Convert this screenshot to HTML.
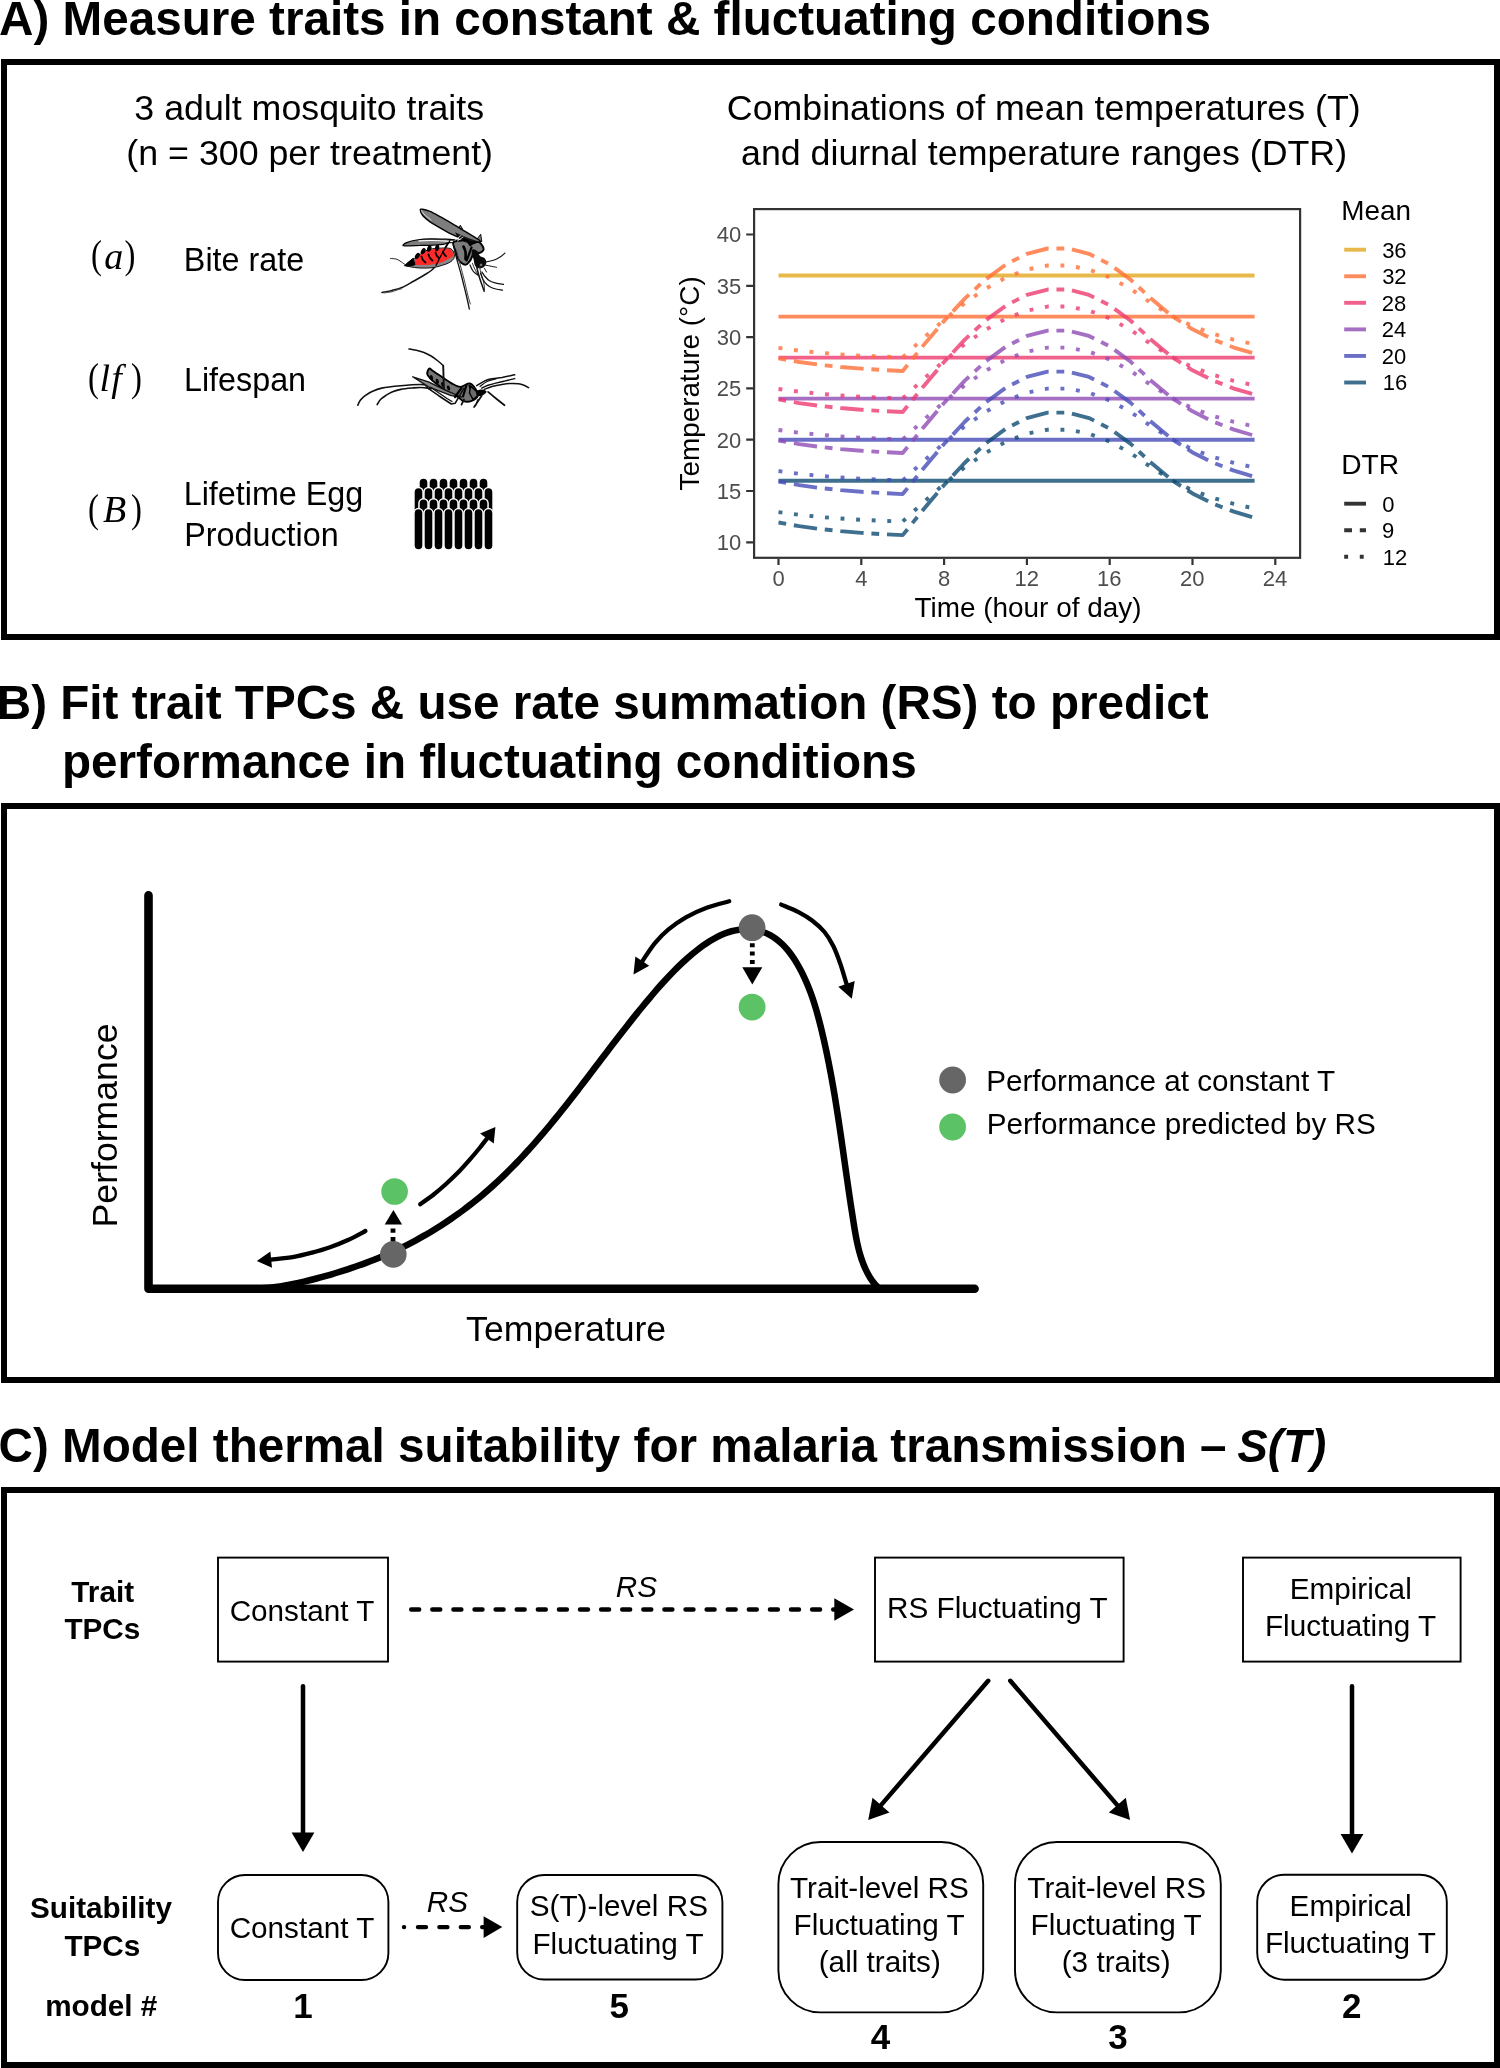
<!DOCTYPE html>
<html lang="en"><head><meta charset="utf-8"><title>Figure</title>
<style>html,body{margin:0;padding:0;background:#fff}svg{display:block;will-change:transform}</style></head>
<body>
<svg width="1500" height="2068" viewBox="0 0 1500 2068" font-family='"Liberation Sans", sans-serif'>
<rect width="1500" height="2068" fill="#fff"/>
<rect x="4" y="62" width="1493" height="575" fill="none" stroke="#000" stroke-width="6"/>
<rect x="4" y="806" width="1493" height="574" fill="none" stroke="#000" stroke-width="6"/>
<rect x="4" y="1490" width="1493" height="575" fill="none" stroke="#000" stroke-width="6"/>
<text x="-0.95" y="35.00" font-size="47.64" font-weight="bold">A) Measure traits in constant &amp; fluctuating conditions</text>
<text x="-3.26" y="719.00" font-size="47.64" font-weight="bold">B) Fit trait TPCs &amp; use rate summation (RS) to predict</text>
<text x="61.97" y="778.00" font-size="47.64" font-weight="bold">performance in fluctuating conditions</text>
<text x="-1.51" y="1462" font-size="47.64" font-weight="bold">C) Model thermal suitability for malaria transmission –</text>
<text x="1237.19" y="1462.00" font-size="45.9" font-weight="bold" font-style="italic">S(T)</text>
<text x="134.33" y="119.60" font-size="35.75">3 adult mosquito traits</text>
<text x="126.36" y="165.00" font-size="35.75">(n = 300 per treatment)</text>
<text x="726.84" y="119.60" font-size="35.75">Combinations of mean temperatures (T)</text>
<text x="741.01" y="165.00" font-size="35.75">and diurnal temperature ranges (DTR)</text>
<text x="183.85" y="270.60" font-size="32.3">Bite rate</text>
<text x="183.96" y="390.60" font-size="32.3">Lifespan</text>
<text x="183.74" y="504.60" font-size="32.3">Lifetime Egg</text>
<text x="184.21" y="545.60" font-size="32.3">Production</text>
<text transform="translate(96.80 268.00) scale(0.8 1)" x="-7.17" y="0" font-size="41" font-family="'Liberation Serif', serif">(</text>
<text transform="translate(129.80 268.00) scale(0.8 1)" x="-6.56" y="0" font-size="41" font-family="'Liberation Serif', serif">)</text>
<text x="104.19" y="268.60" font-size="38" font-style="italic" font-family="'Liberation Serif', serif">a</text>
<text transform="translate(93.80 390.60) scale(0.8 1)" x="-7.17" y="0" font-size="41" font-family="'Liberation Serif', serif">(</text>
<text transform="translate(136.20 390.60) scale(0.8 1)" x="-6.56" y="0" font-size="41" font-family="'Liberation Serif', serif">)</text>
<text x="99.51" y="390.60" font-size="38" font-style="italic" font-family="'Liberation Serif', serif">l</text>
<text x="111.21" y="390.60" font-size="38" font-style="italic" font-family="'Liberation Serif', serif">f</text>
<text transform="translate(93.80 522.40) scale(0.8 1)" x="-7.17" y="0" font-size="41" font-family="'Liberation Serif', serif">(</text>
<text transform="translate(136.20 522.40) scale(0.8 1)" x="-6.56" y="0" font-size="41" font-family="'Liberation Serif', serif">)</text>
<text x="103.09" y="522.40" font-size="38" font-style="italic" font-family="'Liberation Serif', serif">B</text>
<g stroke-linecap="round" stroke-linejoin="round"><path d="M449.3 240.3C448.7 241.4 446.6 245.1 445.5 247.0C444.4 248.9 443.9 249.6 442.7 251.7C441.5 253.8 439.6 257.3 438.5 259.5C437.4 261.7 437.0 263.3 436.0 265.0C435.0 266.7 434.2 268.0 432.5 269.5C430.8 271.0 429.1 272.1 426.0 274.0C422.9 275.9 418.0 278.8 414.0 281.0C410.0 283.2 405.7 285.9 402.0 287.5C398.3 289.1 395.3 289.6 392.0 290.5C388.7 291.4 383.7 292.2 382.0 292.6" fill="none" stroke="#111" stroke-width="1.5"/><path d="M401.5 288.6C399.9 289.1 394.9 290.9 392.0 291.6C389.1 292.3 385.3 292.7 384.0 292.9" fill="none" stroke="#555" stroke-width="1.2"/><path d="M403.0 245.4C403.0 244.9 404.4 243.5 406.7 242.6C409.0 241.7 412.8 240.6 416.7 240.0C420.6 239.4 425.0 238.9 430.0 238.8C435.0 238.7 442.2 239.0 446.7 239.2C451.1 239.4 454.1 239.7 456.7 240.2C459.2 240.7 463.2 241.8 462.0 242.2C460.8 242.6 452.4 242.2 449.3 242.6C446.2 243.0 446.0 244.0 443.3 244.4C440.6 244.8 437.2 244.9 433.3 245.1C429.4 245.3 424.4 245.4 420.0 245.5C415.6 245.6 409.5 245.8 406.7 245.8C403.9 245.8 403.0 245.9 403.0 245.4Z" fill="#7d7d7d" stroke="#000" stroke-width="1.2"/><path d="M419.0 240.9C421.2 240.8 427.3 240.4 432.0 240.5C436.7 240.6 443.0 240.9 447.0 241.2C451.0 241.4 454.5 241.9 456.0 242.0" fill="none" stroke="#fff" stroke-width="1.2"/><path d="M405.3 265.2C405.8 263.9 410.9 260.1 412.7 259.0C414.5 257.9 414.4 259.3 416.0 258.3C417.6 257.3 419.9 254.4 422.0 253.0C424.1 251.6 426.1 250.5 428.7 249.7C431.2 248.9 433.9 248.5 437.3 248.3C440.7 248.1 446.6 247.7 449.3 248.3C452.0 248.9 452.8 250.5 453.6 252.0C454.4 253.5 454.6 255.9 454.2 257.5C453.8 259.1 452.5 260.4 451.0 261.5C449.5 262.6 448.0 263.4 445.0 264.4C442.0 265.4 437.2 267.0 433.0 267.6C428.8 268.2 423.8 268.1 420.0 268.0C416.2 267.9 412.4 267.2 410.0 266.7C407.6 266.2 404.9 266.5 405.3 265.2Z" fill="#888" stroke="#111" stroke-width="1"/><path d="M414.3 264.3C413.6 263.2 414.7 260.4 416.0 258.6C417.3 256.8 419.9 254.8 422.0 253.4C424.1 252.0 426.1 251.0 428.7 250.2C431.2 249.4 433.9 249.1 437.3 248.8C440.7 248.6 446.3 248.2 448.8 248.7C451.3 249.2 451.7 250.7 452.4 251.9C453.1 253.1 453.4 254.8 452.9 255.9C452.4 257.0 451.4 257.3 449.3 258.5C447.2 259.7 443.2 262.0 440.0 263.0C436.8 264.0 433.3 264.4 430.0 264.7C426.7 265.0 422.6 265.1 420.0 265.0C417.4 264.9 415.0 265.4 414.3 264.3Z" fill="#ff2a2a"/><path d="M404.8 265.4 L413.2 258.4 L415.0 264.8 L409.0 266.0Z" fill="#000" stroke="#000" stroke-width="1"/><ellipse cx="417.4" cy="255.9" rx="2.1" ry="3.3" transform="rotate(35 417.4 255.9)" fill="#000"/><ellipse cx="423.2" cy="251.2" rx="2.1" ry="3.3" transform="rotate(30 423.2 251.2)" fill="#000"/><ellipse cx="429.2" cy="248.6" rx="2.1" ry="3.3" transform="rotate(20 429.2 248.6)" fill="#000"/><ellipse cx="437.1" cy="247.9" rx="2.1" ry="3.3" transform="rotate(10 437.1 247.9)" fill="#000"/><path d="M421.5 256.5C421.8 257.1 422.3 259.0 423.0 260.0C423.7 261.0 425.1 262.1 425.5 262.5" fill="none" stroke="#000" stroke-width="1.8"/><path d="M428.5 254.5C428.8 255.1 429.3 257.0 430.0 258.0C430.7 259.0 432.1 260.1 432.5 260.5" fill="none" stroke="#000" stroke-width="1.8"/><path d="M435.5 252.5C435.7 253.0 436.1 254.6 436.7 255.5C437.2 256.4 438.4 257.6 438.8 258.0" fill="none" stroke="#000" stroke-width="1.8"/><path d="M443.0 251.5C443.2 251.9 443.5 253.2 444.0 254.0C444.5 254.8 445.7 255.9 446.0 256.3" fill="none" stroke="#000" stroke-width="1.8"/><path d="M390.5 258.5C391.4 258.6 394.4 258.6 396.0 259.0C397.6 259.4 398.6 260.1 400.0 261.0C401.4 261.9 403.8 263.7 404.5 264.2" fill="none" stroke="#111" stroke-width="0.9"/><path d="M453.3 242.4C454.4 240.7 458.7 240.9 462.0 240.5C465.3 240.1 470.6 239.6 473.3 239.7C476.0 239.8 476.4 239.9 478.0 241.0C479.6 242.1 481.8 244.8 482.7 246.3C483.6 247.9 483.9 249.2 483.3 250.3C482.7 251.4 480.6 252.7 479.0 253.0C477.4 253.3 475.2 251.4 474.0 252.2C472.8 253.0 472.3 256.4 471.5 258.0C470.7 259.6 470.3 260.6 469.3 261.7C468.3 262.8 466.9 264.8 465.3 264.8C463.8 264.8 461.4 263.1 460.0 261.7C458.6 260.3 457.8 258.4 457.0 256.5C456.2 254.6 455.9 252.8 455.3 250.5C454.7 248.2 452.2 244.1 453.3 242.4Z" fill="#7d7d7d" stroke="#000" stroke-width="1.9"/><path d="M463.5 246.5C463.8 247.4 465.2 249.9 465.5 252.0C465.8 254.1 465.5 257.8 465.5 259.0" fill="none" stroke="#000" stroke-width="2.6"/><path d="M471.5 247.5C471.2 248.4 470.3 250.8 469.5 253.0C468.7 255.2 467.0 259.2 466.5 260.5" fill="none" stroke="#000" stroke-width="2.2"/><path d="M466.0 240.5 L481.0 241.2 L474.0 243.8 L470.0 246.5 L467.5 243.0Z" fill="#000"/><path d="M458.5 228.6 L460.3 225.2 L462.5 228.8Z" fill="#7d7d7d" stroke="#000" stroke-width="0.9"/><path d="M476.5 239.9 L480.7 234.2 L481.8 241.2Z" fill="#7d7d7d" stroke="#000" stroke-width="0.9"/><path d="M420.3 210.2C420.2 209.1 421.0 209.0 422.6 209.2C424.2 209.4 427.1 210.2 430.0 211.4C432.9 212.6 437.2 215.1 440.0 216.6C442.8 218.1 443.4 218.4 446.7 220.4C450.0 222.4 455.6 225.7 460.0 228.4C464.4 231.1 469.9 234.2 473.3 236.4C476.7 238.6 480.9 240.5 480.5 241.5C480.1 242.5 473.3 242.6 471.0 242.3C468.7 242.0 468.5 240.7 466.7 239.9C464.9 239.2 462.4 238.7 460.0 237.8C457.6 236.9 455.3 236.1 452.0 234.4C448.7 232.7 443.7 229.9 440.0 227.8C436.3 225.7 432.9 223.8 430.0 221.8C427.1 219.8 424.5 217.7 422.9 215.8C421.3 213.9 420.4 211.3 420.3 210.2Z" fill="#7d7d7d" stroke="#000" stroke-width="1.4"/><path d="M421.5 210.6C421.9 211.2 422.4 212.4 424.0 214.0C425.6 215.6 429.8 219.0 431.0 220.0" fill="none" stroke="#fff" stroke-width="0.7"/><path d="M455.0 232.2 L468.0 238.0 L479.5 241.8 L473.5 244.2 L464.5 242.0 L457.5 237.2Z" fill="#000" opacity="0.85"/><path d="M455 240.2L461 235.5M457.5 241L463 237" stroke="#fff" stroke-width="0.8" fill="none"/><path d="M472.5 249.5C473.4 249.0 475.8 249.9 477.0 251.0C478.2 252.1 478.8 254.8 480.0 256.0C481.2 257.2 483.4 256.9 484.5 258.0C485.6 259.1 486.4 261.0 486.3 262.5C486.2 264.0 485.2 266.0 484.0 267.0C482.8 268.0 480.5 268.6 479.0 268.3C477.5 268.1 475.9 267.1 475.0 265.5C474.1 263.9 474.0 260.9 473.5 259.0C473.0 257.1 472.0 255.6 471.8 254.0C471.6 252.4 471.6 250.0 472.5 249.5Z" fill="#0a0a0a"/><rect x="479.6" y="263.4" width="3" height="3" fill="#777" stroke="#000" stroke-width="0.6"/><path d="M450.5 239.5C449.8 240.7 447.8 244.3 446.5 246.5C445.2 248.7 444.0 250.2 442.7 252.5C441.4 254.8 439.8 257.8 438.7 260.0C437.6 262.2 436.4 264.6 436.0 265.5" fill="none" stroke="#000" stroke-width="1.3"/><path d="M453.5 245.0C454.0 247.2 455.2 253.2 456.5 258.0C457.8 262.8 459.5 268.3 461.0 274.0C462.5 279.7 464.2 286.8 465.5 292.0C466.8 297.2 467.9 302.2 468.5 305.0C469.1 307.8 469.2 308.3 469.3 309.0" fill="none" stroke="#111" stroke-width="1.3"/><path d="M456.5 250.0C457.1 252.3 458.7 258.8 460.0 264.0C461.3 269.2 463.2 275.7 464.5 281.0C465.8 286.3 467.0 292.2 468.0 296.0C469.0 299.8 470.0 302.7 470.4 304.0" fill="none" stroke="#444" stroke-width="1"/><path d="M476.5 266.0C476.9 267.7 478.1 272.8 479.0 276.0C479.9 279.2 481.1 282.4 482.0 285.0C482.9 287.6 483.8 290.2 484.2 291.3" fill="none" stroke="#111" stroke-width="1.5"/><path d="M479.5 267.0C479.8 268.3 480.8 272.3 481.5 275.0C482.2 277.7 483.3 280.5 483.8 283.0C484.3 285.5 484.4 288.8 484.5 290.0" fill="none" stroke="#333" stroke-width="1"/><path d="M470.0 265.0C470.5 266.0 471.8 269.3 473.0 271.0C474.2 272.7 476.8 274.3 477.5 275.0" fill="none" stroke="#111" stroke-width="1.2"/><path d="M472.5 263.5C473.0 264.7 474.3 268.3 475.5 270.5C476.7 272.7 478.8 275.5 479.5 276.5" fill="none" stroke="#222" stroke-width="1"/><path d="M486.0 262.0C487.5 261.6 492.6 260.6 495.0 259.7C497.4 258.8 498.8 257.9 500.5 256.8C502.2 255.7 504.2 253.6 505.0 253.0" fill="none" stroke="#111" stroke-width="1.1"/><path d="M485.0 265.0C485.8 265.2 488.1 265.6 490.0 266.0C491.9 266.4 495.4 267.1 496.5 267.3" fill="none" stroke="#111" stroke-width="1.0"/><path d="M482.0 272.0C482.5 272.8 483.8 275.1 485.0 276.5C486.2 277.9 487.7 279.6 489.5 280.7C491.3 281.8 493.7 282.6 496.0 283.2C498.3 283.8 502.2 284.1 503.5 284.3" fill="none" stroke="#111" stroke-width="1.2"/><path d="M480.5 273.0C480.9 274.1 481.9 277.5 483.0 279.5C484.1 281.5 485.3 283.3 487.0 284.8C488.7 286.3 490.4 287.4 493.0 288.3C495.6 289.2 500.9 289.9 502.5 290.2" fill="none" stroke="#111" stroke-width="1.2"/><path d="M484.5 268.5C484.8 269.1 486.2 271.4 486.5 272.0" fill="none" stroke="#111" stroke-width="1.0"/></g>
<g stroke-linecap="round" stroke-linejoin="round" fill="none" stroke="#111"><path d="M357.8 405.2C358.2 404.3 359.3 401.6 360.5 400.0C361.7 398.4 363.3 397.1 365.2 395.7C367.1 394.3 369.2 392.8 372.0 391.5C374.8 390.2 376.9 389.1 381.7 388.1C386.5 387.1 394.2 386.3 400.7 385.7C407.2 385.1 415.7 384.4 420.9 384.5C426.1 384.6 428.6 385.5 432.0 386.5C435.4 387.5 439.7 390.0 441.2 390.7" stroke-width="1.62"/><path d="M377.2 404.6C377.8 403.8 379.1 401.0 380.5 399.5C381.9 398.0 383.6 396.9 385.5 395.7C387.4 394.4 389.5 393.1 392.0 392.0C394.5 390.9 397.4 390.1 400.7 389.4C404.0 388.7 408.6 388.3 412.0 388.0C415.4 387.7 417.7 387.4 420.9 387.5C424.1 387.6 429.4 388.6 431.1 388.8" stroke-width="1.62"/><path d="M408.9 348.9C410.1 349.1 413.5 349.6 416.0 350.2C418.5 350.8 421.5 351.5 424.0 352.5C426.5 353.5 428.8 354.6 431.1 356.0C433.4 357.4 436.0 359.4 438.0 361.0C440.0 362.6 442.3 364.8 443.2 365.6" stroke-width="1.49"/><path d="M427.3 374.2C427.0 372.4 428.2 369.1 429.2 368.6C430.1 368.1 431.4 370.0 433.0 371.0C434.6 372.0 435.6 372.8 438.7 374.8C441.8 376.8 447.7 381.1 451.3 383.1C454.9 385.1 457.4 386.8 460.2 386.9C462.9 387.0 465.9 384.1 467.8 383.7C469.7 383.3 470.1 383.1 471.6 384.3C473.1 385.5 475.6 388.8 476.7 390.7C477.8 392.6 478.8 394.0 477.9 395.7C477.0 397.4 473.9 399.9 471.6 400.8C469.3 401.8 466.3 402.0 464.0 401.4C461.7 400.8 460.2 398.4 457.7 397.0C455.2 395.6 452.0 395.1 448.8 393.2C445.6 391.3 441.6 387.9 438.7 385.6C435.8 383.3 433.0 381.2 431.1 379.3C429.2 377.4 427.6 376.0 427.3 374.2Z" fill="#747474" stroke="#000" stroke-width="1.9"/><ellipse cx="431.5" cy="377.5" rx="1.5" ry="2.6" transform="rotate(-20 431.5 377.5)" fill="#000" stroke="none"/><ellipse cx="437.3" cy="381.3" rx="1.5" ry="2.6" transform="rotate(-20 437.3 381.3)" fill="#000" stroke="none"/><ellipse cx="442.7" cy="384.6" rx="1.5" ry="2.6" transform="rotate(-20 442.7 384.6)" fill="#000" stroke="none"/><ellipse cx="448.5" cy="388" rx="1.5" ry="2.6" transform="rotate(-20 448.5 388)" fill="#000" stroke="none"/><path d="M443.2 365.6L443.9 389.5" stroke-width="1.89"/><path d="M412.7 376.8 L428.5 381.8 L446.3 390.7 L461.5 397.0 L451.3 395.7 L428.5 386.9Z" fill="#8a8a8a" stroke="#111" stroke-width="1.35"/><path d="M466.5 385L463 396.5M469.5 386L473.5 397M461.5 388L455 397" stroke="#000" stroke-width="2.16"/><path d="M470.5 386.0 L476.5 391.5 L477.5 396.0 L473.0 399.5 L469.5 393.0Z" fill="#6a6a6a" stroke="#000" stroke-width="1.49"/><path d="M477.0 391.0C477.5 389.9 480.4 389.4 482.0 389.5C483.6 389.6 486.2 390.7 486.5 391.5C486.8 392.3 485.2 393.8 484.0 394.5C482.8 395.2 480.2 396.6 479.0 396.0C477.8 395.4 476.5 392.1 477.0 391.0Z" fill="#000" stroke="none"/><path d="M426.0 386.9 L438.7 395.7 L451.3 404.0 L455.1 403.3 L464.0 388.1" stroke-width="1.62"/><path d="M431.0 387.5 L447.0 398.5 L452.0 401.5" stroke-width="1.35"/><path d="M461.5 404.6L464 399.5M474.1 407.1L481.7 395.7M475.5 405.5L478 400" stroke-width="1.76"/><path d="M476.7 385.6C477.8 385.0 480.9 382.9 483.0 381.8C485.1 380.8 486.1 380.0 489.3 379.3C492.5 378.6 497.8 378.1 502.0 377.4C506.2 376.6 512.6 375.2 514.7 374.8" stroke-width="1.49"/><path d="M481.7 388.1C482.8 387.6 485.7 386.1 488.0 385.3C490.3 384.5 492.9 383.8 495.7 383.1C498.5 382.4 501.8 381.6 505.0 380.9C508.2 380.1 513.1 379.0 514.7 378.6" stroke-width="1.49"/><path d="M484.3 389.4C485.6 388.9 489.1 387.3 492.0 386.5C494.9 385.7 499.0 384.9 502.0 384.4C505.0 383.9 507.2 383.6 510.0 383.5C512.8 383.4 516.2 383.5 518.5 383.8C520.8 384.1 522.3 384.6 524.0 385.2C525.7 385.8 527.8 387.2 528.6 387.6" stroke-width="1.49"/><path d="M488.1 391.9C489.4 393.0 493.0 396.1 495.7 398.3C498.4 400.5 503.0 404.1 504.5 405.2" stroke-width="1.76"/><path d="M480.0 386.5C481.2 385.7 484.3 382.8 487.0 381.5C489.7 380.2 494.5 379.2 496.0 378.8" stroke-width="1.22"/></g>
<g fill="#000" stroke="#fff" stroke-width="1.5"><rect x="418.95" y="478.00" width="9.1" height="42.00" rx="4.55"/><rect x="428.95" y="478.00" width="9.1" height="42.00" rx="4.55"/><rect x="438.95" y="478.00" width="9.1" height="42.00" rx="4.55"/><rect x="448.95" y="478.00" width="9.1" height="42.00" rx="4.55"/><rect x="458.95" y="478.00" width="9.1" height="42.00" rx="4.55"/><rect x="468.95" y="478.00" width="9.1" height="42.00" rx="4.55"/><rect x="478.95" y="478.00" width="9.1" height="42.00" rx="4.55"/><rect x="413.95" y="487.50" width="9.1" height="32.50" rx="4.55"/><rect x="423.95" y="487.50" width="9.1" height="32.50" rx="4.55"/><rect x="433.95" y="487.50" width="9.1" height="32.50" rx="4.55"/><rect x="443.95" y="487.50" width="9.1" height="32.50" rx="4.55"/><rect x="453.95" y="487.50" width="9.1" height="32.50" rx="4.55"/><rect x="463.95" y="487.50" width="9.1" height="32.50" rx="4.55"/><rect x="473.95" y="487.50" width="9.1" height="32.50" rx="4.55"/><rect x="483.95" y="487.50" width="9.1" height="32.50" rx="4.55"/><rect x="418.95" y="498.80" width="9.1" height="21.20" rx="4.55"/><rect x="428.95" y="498.80" width="9.1" height="21.20" rx="4.55"/><rect x="438.95" y="498.80" width="9.1" height="21.20" rx="4.55"/><rect x="448.95" y="498.80" width="9.1" height="21.20" rx="4.55"/><rect x="458.95" y="498.80" width="9.1" height="21.20" rx="4.55"/><rect x="468.95" y="498.80" width="9.1" height="21.20" rx="4.55"/><rect x="478.95" y="498.80" width="9.1" height="21.20" rx="4.55"/><rect x="413.95" y="508.60" width="9.1" height="41.40" rx="4.55"/><rect x="423.95" y="508.60" width="9.1" height="41.40" rx="4.55"/><rect x="433.95" y="508.60" width="9.1" height="41.40" rx="4.55"/><rect x="443.95" y="508.60" width="9.1" height="41.40" rx="4.55"/><rect x="453.95" y="508.60" width="9.1" height="41.40" rx="4.55"/><rect x="463.95" y="508.60" width="9.1" height="41.40" rx="4.55"/><rect x="473.95" y="508.60" width="9.1" height="41.40" rx="4.55"/><rect x="483.95" y="508.60" width="9.1" height="41.40" rx="4.55"/></g>
<g fill="none" stroke-width="3.9" stroke-opacity="0.8" stroke-linejoin="round"><path d="M778.50 480.74H1254.60" stroke="#0F4B72"/><path d="M778.50 439.70H1254.60" stroke="#464CB8"/><path d="M778.50 398.66H1254.60" stroke="#8E4BB5"/><path d="M778.50 357.62H1254.60" stroke="#EC3B6F"/><path d="M778.50 316.58H1254.60" stroke="#FF6F36"/><path d="M778.50 275.54H1254.60" stroke="#E2A71D"/><path d="M778.50 512.09 L799.20 514.82 L819.90 516.93 L840.60 518.56 L861.30 519.81 L882.00 520.78 L902.70 521.52 L923.40 502.32 L944.10 483.97 L964.80 467.25 L985.50 452.90 L1006.20 441.55 L1026.90 433.70 L1047.60 429.69 L1068.30 429.69 L1089.00 433.70 L1109.70 441.55 L1130.40 452.90 L1151.10 467.25 L1171.80 480.24 L1192.50 490.26 L1213.20 497.99 L1233.90 503.94 L1254.60 508.54" stroke="#0F4B72" stroke-dasharray="3.9 11.7"/><path d="M778.50 522.54 L799.20 526.18 L819.90 528.99 L840.60 531.16 L861.30 532.83 L882.00 534.12 L902.70 535.12 L923.40 509.52 L944.10 485.04 L964.80 462.75 L985.50 443.62 L1006.20 428.49 L1026.90 418.02 L1047.60 412.67 L1068.30 412.67 L1089.00 418.02 L1109.70 428.49 L1130.40 443.62 L1151.10 462.75 L1171.80 480.07 L1192.50 493.43 L1213.20 503.73 L1233.90 511.68 L1254.60 517.81" stroke="#0F4B72" stroke-dasharray="7.8 7.8 23.4 7.8"/><path d="M778.50 471.05 L799.20 473.78 L819.90 475.89 L840.60 477.52 L861.30 478.77 L882.00 479.74 L902.70 480.48 L923.40 461.28 L944.10 442.93 L964.80 426.21 L985.50 411.86 L1006.20 400.51 L1026.90 392.66 L1047.60 388.65 L1068.30 388.65 L1089.00 392.66 L1109.70 400.51 L1130.40 411.86 L1151.10 426.21 L1171.80 439.20 L1192.50 449.22 L1213.20 456.95 L1233.90 462.90 L1254.60 467.50" stroke="#464CB8" stroke-dasharray="3.9 11.7"/><path d="M778.50 481.50 L799.20 485.14 L819.90 487.95 L840.60 490.12 L861.30 491.79 L882.00 493.08 L902.70 494.08 L923.40 468.48 L944.10 444.00 L964.80 421.71 L985.50 402.58 L1006.20 387.45 L1026.90 376.98 L1047.60 371.63 L1068.30 371.63 L1089.00 376.98 L1109.70 387.45 L1130.40 402.58 L1151.10 421.71 L1171.80 439.03 L1192.50 452.39 L1213.20 462.69 L1233.90 470.64 L1254.60 476.77" stroke="#464CB8" stroke-dasharray="7.8 7.8 23.4 7.8"/><path d="M778.50 430.01 L799.20 432.74 L819.90 434.85 L840.60 436.48 L861.30 437.73 L882.00 438.70 L902.70 439.44 L923.40 420.24 L944.10 401.89 L964.80 385.17 L985.50 370.82 L1006.20 359.47 L1026.90 351.62 L1047.60 347.61 L1068.30 347.61 L1089.00 351.62 L1109.70 359.47 L1130.40 370.82 L1151.10 385.17 L1171.80 398.16 L1192.50 408.18 L1213.20 415.91 L1233.90 421.86 L1254.60 426.46" stroke="#8E4BB5" stroke-dasharray="3.9 11.7"/><path d="M778.50 440.46 L799.20 444.10 L819.90 446.91 L840.60 449.08 L861.30 450.75 L882.00 452.04 L902.70 453.04 L923.40 427.44 L944.10 402.96 L964.80 380.67 L985.50 361.54 L1006.20 346.41 L1026.90 335.94 L1047.60 330.59 L1068.30 330.59 L1089.00 335.94 L1109.70 346.41 L1130.40 361.54 L1151.10 380.67 L1171.80 397.99 L1192.50 411.35 L1213.20 421.65 L1233.90 429.60 L1254.60 435.73" stroke="#8E4BB5" stroke-dasharray="7.8 7.8 23.4 7.8"/><path d="M778.50 388.97 L799.20 391.70 L819.90 393.81 L840.60 395.44 L861.30 396.69 L882.00 397.66 L902.70 398.40 L923.40 379.20 L944.10 360.85 L964.80 344.13 L985.50 329.78 L1006.20 318.43 L1026.90 310.58 L1047.60 306.57 L1068.30 306.57 L1089.00 310.58 L1109.70 318.43 L1130.40 329.78 L1151.10 344.13 L1171.80 357.12 L1192.50 367.14 L1213.20 374.87 L1233.90 380.82 L1254.60 385.42" stroke="#EC3B6F" stroke-dasharray="3.9 11.7"/><path d="M778.50 399.42 L799.20 403.06 L819.90 405.87 L840.60 408.04 L861.30 409.71 L882.00 411.00 L902.70 412.00 L923.40 386.40 L944.10 361.92 L964.80 339.63 L985.50 320.50 L1006.20 305.37 L1026.90 294.90 L1047.60 289.55 L1068.30 289.55 L1089.00 294.90 L1109.70 305.37 L1130.40 320.50 L1151.10 339.63 L1171.80 356.95 L1192.50 370.31 L1213.20 380.61 L1233.90 388.56 L1254.60 394.69" stroke="#EC3B6F" stroke-dasharray="7.8 7.8 23.4 7.8"/><path d="M778.50 347.93 L799.20 350.66 L819.90 352.77 L840.60 354.40 L861.30 355.65 L882.00 356.62 L902.70 357.36 L923.40 338.16 L944.10 319.81 L964.80 303.09 L985.50 288.74 L1006.20 277.39 L1026.90 269.54 L1047.60 265.53 L1068.30 265.53 L1089.00 269.54 L1109.70 277.39 L1130.40 288.74 L1151.10 303.09 L1171.80 316.08 L1192.50 326.10 L1213.20 333.83 L1233.90 339.78 L1254.60 344.38" stroke="#FF6F36" stroke-dasharray="3.9 11.7"/><path d="M778.50 358.38 L799.20 362.02 L819.90 364.83 L840.60 367.00 L861.30 368.67 L882.00 369.96 L902.70 370.96 L923.40 345.36 L944.10 320.88 L964.80 298.59 L985.50 279.46 L1006.20 264.33 L1026.90 253.86 L1047.60 248.51 L1068.30 248.51 L1089.00 253.86 L1109.70 264.33 L1130.40 279.46 L1151.10 298.59 L1171.80 315.91 L1192.50 329.27 L1213.20 339.57 L1233.90 347.52 L1254.60 353.65" stroke="#FF6F36" stroke-dasharray="7.8 7.8 23.4 7.8"/></g><rect x="754.1" y="209.1" width="546" height="348.7" fill="none" stroke="#333" stroke-width="2.2"/><path d="M746.2 542.30H753 M746.2 491.00H753 M746.2 439.70H753 M746.2 388.40H753 M746.2 337.10H753 M746.2 285.80H753 M746.2 234.50H753 M778.50 558.9V565 M861.30 558.9V565 M944.10 558.9V565 M1026.90 558.9V565 M1109.70 558.9V565 M1192.50 558.9V565 M1275.30 558.9V565 " stroke="#333" stroke-width="2.2" fill="none"/>
<text x="716.82" y="550.20" font-size="22.0" fill="#4D4D4D">10</text>
<text x="716.82" y="498.90" font-size="22.0" fill="#4D4D4D">15</text>
<text x="716.82" y="447.60" font-size="22.0" fill="#4D4D4D">20</text>
<text x="716.82" y="396.30" font-size="22.0" fill="#4D4D4D">25</text>
<text x="716.82" y="345.00" font-size="22.0" fill="#4D4D4D">30</text>
<text x="716.82" y="293.70" font-size="22.0" fill="#4D4D4D">35</text>
<text x="716.82" y="242.40" font-size="22.0" fill="#4D4D4D">40</text>
<text x="772.45" y="586.40" font-size="22.0" fill="#4D4D4D">0</text>
<text x="855.25" y="586.40" font-size="22.0" fill="#4D4D4D">4</text>
<text x="937.94" y="586.40" font-size="22.0" fill="#4D4D4D">8</text>
<text x="1014.40" y="586.40" font-size="22.0" fill="#4D4D4D">12</text>
<text x="1097.09" y="586.40" font-size="22.0" fill="#4D4D4D">16</text>
<text x="1180.11" y="586.40" font-size="22.0" fill="#4D4D4D">20</text>
<text x="1262.80" y="586.40" font-size="22.0" fill="#4D4D4D">24</text>
<text x="914.61" y="616.90" font-size="27.9">Time (hour of day)</text>
<text transform="translate(698.9 383.85) rotate(-90)" x="-106.67" y="0" font-size="27.9">Temperature (°C)</text>
<text x="1341.27" y="219.70" font-size="27.9">Mean</text>
<text x="1341.24" y="473.70" font-size="28.2">DTR</text>
<g fill="none" stroke-width="3.9" stroke-opacity="0.8"><path d="M1344.2 249.70H1366" stroke="#E2A71D"/><path d="M1344.2 276.26H1366" stroke="#FF6F36"/><path d="M1344.2 302.82H1366" stroke="#EC3B6F"/><path d="M1344.2 329.38H1366" stroke="#8E4BB5"/><path d="M1344.2 355.94H1366" stroke="#464CB8"/><path d="M1344.2 382.50H1366" stroke="#0F4B72"/><path d="M1344.2 503.7H1366" stroke="#000"/><path d="M1344.2 530.2H1366" stroke="#000" stroke-dasharray="7.8 7.8 23.4 7.8"/><path d="M1344.2 556.7H1366" stroke="#000" stroke-dasharray="3.9 11.7"/></g>
<text x="1382.14" y="257.50" font-size="22.0">36</text>
<text x="1382.14" y="284.06" font-size="22.0">32</text>
<text x="1381.70" y="310.62" font-size="22.0">28</text>
<text x="1381.70" y="337.18" font-size="22.0">24</text>
<text x="1381.70" y="363.74" font-size="22.0">20</text>
<text x="1382.66" y="390.30" font-size="22.0">16</text>
<text x="1382.14" y="511.50" font-size="22.0">0</text>
<text x="1381.92" y="538.00" font-size="22.0">9</text>
<text x="1382.66" y="564.70" font-size="22.0">12</text>
<path d="M148.5 895.2V1288.7H974.6" fill="none" stroke="#000" stroke-width="8.6" stroke-linecap="round" stroke-linejoin="round"/>
<path d="M250.00 1288.80C251.33 1288.76 255.36 1288.67 258.00 1288.55C260.64 1288.42 263.24 1288.26 265.85 1288.04C268.47 1287.82 271.09 1287.54 273.70 1287.22C276.32 1286.90 278.93 1286.53 281.54 1286.12C284.15 1285.72 286.76 1285.26 289.37 1284.77C291.97 1284.29 294.57 1283.76 297.17 1283.20C299.77 1282.65 302.36 1282.05 304.95 1281.44C307.55 1280.82 310.13 1280.17 312.71 1279.51C315.30 1278.84 317.87 1278.15 320.45 1277.44C323.02 1276.74 325.58 1276.01 328.14 1275.28C330.70 1274.54 333.26 1273.78 335.81 1273.01C338.36 1272.24 340.90 1271.45 343.43 1270.64C345.97 1269.83 348.50 1269.01 351.02 1268.16C353.54 1267.31 356.05 1266.45 358.55 1265.56C361.06 1264.68 363.55 1263.77 366.04 1262.84C368.53 1261.91 371.01 1260.97 373.48 1259.99C375.94 1259.02 378.40 1258.03 380.85 1257.01C383.30 1255.99 385.74 1254.94 388.17 1253.87C390.60 1252.80 393.02 1251.71 395.43 1250.59C397.84 1249.47 400.23 1248.33 402.62 1247.15C405.00 1245.98 407.38 1244.79 409.74 1243.57C412.10 1242.34 414.45 1241.10 416.78 1239.83C419.12 1238.56 421.44 1237.26 423.75 1235.94C426.06 1234.63 428.35 1233.28 430.64 1231.92C432.92 1230.55 435.19 1229.16 437.44 1227.75C439.69 1226.34 441.93 1224.91 444.15 1223.45C446.38 1221.99 448.59 1220.51 450.78 1219.01C452.97 1217.51 455.15 1215.99 457.31 1214.45C459.47 1212.90 461.61 1211.34 463.74 1209.75C465.87 1208.17 467.98 1206.56 470.07 1204.94C472.16 1203.31 474.24 1201.66 476.29 1200.00C478.35 1198.33 480.39 1196.65 482.41 1194.94C484.43 1193.24 486.43 1191.51 488.42 1189.77C490.40 1188.03 492.37 1186.27 494.32 1184.49C496.26 1182.71 498.20 1180.92 500.11 1179.11C502.03 1177.30 503.93 1175.47 505.81 1173.62C507.70 1171.78 509.57 1169.92 511.43 1168.05C513.28 1166.17 515.12 1164.28 516.95 1162.38C518.78 1160.48 520.59 1158.56 522.39 1156.63C524.19 1154.70 525.98 1152.76 527.76 1150.80C529.54 1148.85 531.30 1146.88 533.06 1144.90C534.81 1142.93 536.55 1140.94 538.29 1138.94C540.02 1136.94 541.74 1134.92 543.46 1132.91C545.17 1130.89 546.88 1128.86 548.57 1126.82C550.27 1124.78 551.96 1122.73 553.64 1120.68C555.32 1118.62 556.99 1116.56 558.66 1114.49C560.32 1112.42 561.98 1110.35 563.63 1108.26C565.29 1106.18 566.94 1104.09 568.58 1102.00C570.22 1099.91 571.86 1097.81 573.49 1095.70C575.12 1093.60 576.75 1091.49 578.38 1089.38C580.01 1087.27 581.63 1085.16 583.25 1083.04C584.87 1080.92 586.49 1078.80 588.10 1076.68C589.72 1074.56 591.33 1072.44 592.95 1070.31C594.56 1068.19 596.17 1066.06 597.79 1063.94C599.40 1061.81 601.01 1059.69 602.63 1057.57C604.24 1055.44 605.85 1053.32 607.47 1051.20C609.09 1049.08 610.71 1046.96 612.33 1044.84C613.95 1042.72 615.57 1040.61 617.20 1038.50C618.83 1036.39 620.46 1034.28 622.09 1032.18C623.73 1030.08 625.37 1027.98 627.01 1025.88C628.66 1023.79 630.31 1021.70 631.96 1019.62C633.62 1017.54 635.28 1015.46 636.95 1013.40C638.62 1011.33 640.29 1009.27 641.98 1007.21C643.66 1005.16 645.35 1003.11 647.05 1001.07C648.75 999.04 650.46 997.01 652.17 994.99C653.89 992.97 655.62 990.96 657.36 988.96C659.10 986.97 660.85 984.98 662.62 983.02C664.39 981.05 666.17 979.10 667.98 977.18C669.79 975.25 671.61 973.34 673.46 971.45C675.31 969.57 677.17 967.71 679.07 965.88C680.97 964.05 682.89 962.24 684.85 960.47C686.80 958.69 688.79 956.95 690.81 955.24C692.82 953.54 694.87 951.86 696.96 950.23C699.05 948.60 701.18 946.99 703.34 945.45C705.51 943.92 707.71 942.41 709.96 941.01C712.21 939.60 714.51 938.26 716.85 937.05C719.19 935.84 721.58 934.71 724.02 933.75C726.46 932.78 728.94 931.93 731.49 931.27C734.03 930.61 736.65 930.09 739.28 929.77C741.91 929.46 744.62 929.32 747.29 929.37C749.95 929.43 752.65 929.66 755.26 930.10C757.88 930.53 760.48 931.16 762.96 931.99C765.44 932.82 767.85 933.86 770.13 935.08C772.41 936.30 774.58 937.73 776.66 939.30C778.74 940.87 780.71 942.62 782.59 944.48C784.47 946.33 786.25 948.34 787.96 950.42C789.66 952.50 791.27 954.71 792.81 956.96C794.35 959.20 795.80 961.55 797.19 963.90C798.58 966.25 799.89 968.65 801.14 971.06C802.39 973.47 803.57 975.90 804.70 978.35C805.83 980.80 806.89 983.26 807.91 985.74C808.93 988.23 809.89 990.73 810.80 993.23C811.72 995.74 812.59 998.27 813.43 1000.80C814.26 1003.34 815.05 1005.88 815.81 1008.43C816.57 1010.99 817.29 1013.55 817.99 1016.11C818.69 1018.68 819.36 1021.25 820.02 1023.83C820.67 1026.40 821.30 1028.98 821.91 1031.56C822.53 1034.14 823.13 1036.72 823.72 1039.30C824.31 1041.88 824.88 1044.46 825.44 1047.04C826.00 1049.63 826.55 1052.21 827.09 1054.79C827.62 1057.38 828.15 1059.97 828.66 1062.55C829.17 1065.14 829.67 1067.73 830.16 1070.32C830.65 1072.90 831.13 1075.49 831.61 1078.09C832.08 1080.68 832.54 1083.27 832.99 1085.86C833.45 1088.46 833.89 1091.05 834.33 1093.65C834.76 1096.25 835.19 1098.84 835.62 1101.44C836.04 1104.04 836.45 1106.64 836.86 1109.24C837.28 1111.85 837.68 1114.45 838.08 1117.05C838.48 1119.66 838.87 1122.26 839.26 1124.87C839.65 1127.48 840.04 1130.09 840.42 1132.70C840.80 1135.31 841.18 1137.92 841.56 1140.54C841.94 1143.15 842.31 1145.77 842.69 1148.38C843.06 1151.00 843.43 1153.62 843.81 1156.24C844.18 1158.86 844.55 1161.49 844.92 1164.11C845.29 1166.73 845.66 1169.36 846.04 1171.99C846.41 1174.62 846.78 1177.25 847.16 1179.88C847.54 1182.51 847.92 1185.14 848.30 1187.78C848.68 1190.42 849.06 1193.05 849.45 1195.69C849.84 1198.33 850.35 1201.76 850.63 1203.62C850.91 1205.48 850.96 1205.78 851.12 1206.86C851.29 1207.95 851.45 1209.03 851.62 1210.11C851.78 1211.20 851.95 1212.28 852.12 1213.36C852.29 1214.45 852.46 1215.53 852.63 1216.61C852.80 1217.70 852.97 1218.78 853.14 1219.87C853.31 1220.95 853.49 1222.04 853.66 1223.13C853.83 1224.21 854.01 1225.30 854.19 1226.38C854.37 1227.47 854.54 1228.56 854.73 1229.64C854.91 1230.73 855.10 1231.81 855.29 1232.90C855.48 1233.98 855.67 1235.06 855.87 1236.14C856.08 1237.22 856.28 1238.30 856.50 1239.38C856.71 1240.45 856.93 1241.53 857.16 1242.60C857.39 1243.67 857.62 1244.74 857.87 1245.80C858.11 1246.86 858.37 1247.93 858.63 1248.98C858.90 1250.04 859.17 1251.09 859.46 1252.14C859.75 1253.19 860.05 1254.23 860.36 1255.27C860.67 1256.30 860.99 1257.34 861.33 1258.36C861.67 1259.39 862.02 1260.41 862.39 1261.42C862.76 1262.44 863.14 1263.44 863.54 1264.44C863.94 1265.44 864.35 1266.44 864.79 1267.42C865.22 1268.41 865.67 1269.38 866.14 1270.35C866.61 1271.32 867.09 1272.28 867.60 1273.24C868.11 1274.19 868.64 1275.13 869.19 1276.07C869.74 1277.00 870.30 1277.93 870.90 1278.84C871.49 1279.75 872.10 1280.67 872.74 1281.54C873.39 1282.42 874.05 1283.29 874.75 1284.11C875.45 1284.92 876.18 1285.71 876.96 1286.42C877.73 1287.13 878.47 1287.87 879.40 1288.38C880.32 1288.90 881.98 1289.31 882.50 1289.50" fill="none" stroke="#000" stroke-width="6.5"/>
<path d="M729.20 901.30C725.45 902.37 713.92 905.03 706.70 907.70C699.48 910.37 692.27 913.68 685.90 917.30C679.53 920.92 673.70 925.07 668.50 929.40C663.30 933.73 659.07 938.00 654.70 943.30C650.33 948.60 644.37 958.22 642.30 961.20" fill="none" stroke="#000" stroke-width="4.3" stroke-linecap="round"/>
<path d="M633.50 974.50L635.38 956.62L649.22 965.78Z" fill="#000"/>
<path d="M781.20 904.60C784.08 905.85 793.30 909.42 798.50 912.10C803.70 914.78 808.07 917.38 812.40 920.70C816.73 924.02 821.00 927.75 824.50 932.00C828.00 936.25 830.75 940.87 833.40 946.20C836.05 951.53 838.22 957.72 840.40 964.00C842.58 970.28 845.48 980.58 846.50 983.90" fill="none" stroke="#000" stroke-width="4.3" stroke-linecap="round"/>
<path d="M851.80 998.70L838.26 986.85L854.74 980.95Z" fill="#000"/>
<path d="M420.20 1204.20C422.50 1202.53 429.70 1197.57 434.00 1194.20C438.30 1190.83 442.00 1187.60 446.00 1184.00C450.00 1180.40 454.00 1176.70 458.00 1172.60C462.00 1168.50 466.40 1163.50 470.00 1159.40C473.60 1155.30 476.78 1151.47 479.60 1148.00C482.42 1144.53 485.68 1140.17 486.90 1138.60" fill="none" stroke="#000" stroke-width="4.3" stroke-linecap="round"/>
<path d="M495.40 1127.00L493.76 1143.62L480.04 1133.58Z" fill="#000"/>
<path d="M365.40 1231.00C362.50 1232.50 353.90 1237.30 348.00 1240.00C342.10 1242.70 336.00 1245.10 330.00 1247.20C324.00 1249.30 318.00 1251.00 312.00 1252.60C306.00 1254.20 300.80 1255.63 294.00 1256.80C287.20 1257.97 275.00 1259.13 271.20 1259.60" fill="none" stroke="#000" stroke-width="4.3" stroke-linecap="round"/>
<path d="M256.80 1261.00L270.40 1251.39L272.00 1267.81Z" fill="#000"/>
<circle cx="752.1" cy="927.7" r="13.4" fill="#666"/>
<circle cx="752.1" cy="1007.1" r="13.4" fill="#5BC265"/>
<circle cx="393.3" cy="1254.4" r="13.3" fill="#666"/>
<circle cx="394.6" cy="1191.5" r="13.3" fill="#5BC265"/>
<path d="M752.3 943.2V966" stroke="#000" stroke-width="4.8" stroke-dasharray="4 4.4" fill="none"/>
<path d="M752.30 984.60L742.30 967.20L762.30 967.20Z" fill="#000"/>
<path d="M393 1241.2V1226" stroke="#000" stroke-width="4.8" stroke-dasharray="4.2 4.2" fill="none"/>
<path d="M393.40 1210.00L402.10 1224.60L384.70 1224.60Z" fill="#000"/>
<circle cx="952.6" cy="1080" r="13.4" fill="#666"/>
<circle cx="952.6" cy="1127" r="13.4" fill="#5BC265"/>
<text x="986.22" y="1090.60" font-size="29.67">Performance at constant T</text>
<text x="986.67" y="1134.40" font-size="29.67">Performance predicted by RS</text>
<text x="466.07" y="1340.80" font-size="35.65">Temperature</text>
<text transform="translate(117.3 1124.65) rotate(-90)" x="-102.82" y="0" font-size="35.65">Performance</text>
<text x="71.34" y="1601.50" font-size="29.7" font-weight="bold">Trait</text>
<text x="64.43" y="1638.50" font-size="29.7" font-weight="bold">TPCs</text>
<text x="30.04" y="1918.10" font-size="29.7" font-weight="bold">Suitability</text>
<text x="64.43" y="1956.00" font-size="29.7" font-weight="bold">TPCs</text>
<text x="45.13" y="2016.00" font-size="29.7" font-weight="bold">model #</text>
<rect x="218" y="1557.6" width="170.0" height="104" fill="none" stroke="#000" stroke-width="1.9"/>
<rect x="875" y="1557.6" width="248.6" height="104" fill="none" stroke="#000" stroke-width="1.9"/>
<rect x="1243" y="1557.6" width="217.6" height="104" fill="none" stroke="#000" stroke-width="1.9"/>
<text x="229.63" y="1620.60" font-size="29.7">Constant T</text>
<text x="887.03" y="1618.00" font-size="29.7">RS Fluctuating T</text>
<text x="1289.67" y="1599.00" font-size="29.7">Empirical</text>
<text x="1264.98" y="1636.00" font-size="29.7">Fluctuating T</text>
<rect x="218" y="1875" width="170.4" height="105.0" rx="27" fill="none" stroke="#000" stroke-width="1.9"/>
<rect x="517.2" y="1875" width="205.2" height="104.5" rx="27" fill="none" stroke="#000" stroke-width="1.9"/>
<rect x="778.4" y="1842" width="204.8" height="170.4" rx="42" fill="none" stroke="#000" stroke-width="1.9"/>
<rect x="1015" y="1842" width="205.8" height="170.4" rx="42" fill="none" stroke="#000" stroke-width="1.9"/>
<rect x="1257.2" y="1874.8" width="189.6" height="104.9" rx="27" fill="none" stroke="#000" stroke-width="1.9"/>
<text x="229.63" y="1937.60" font-size="29.7">Constant T</text>
<text x="529.80" y="1915.70" font-size="29.7">S(T)-level RS</text>
<text x="532.48" y="1953.60" font-size="29.7">Fluctuating T</text>
<text x="790.06" y="1897.50" font-size="29.7">Trait-level RS</text>
<text x="793.53" y="1934.80" font-size="29.7">Fluctuating T</text>
<text x="818.74" y="1971.60" font-size="29.7">(all traits)</text>
<text x="1027.36" y="1897.50" font-size="29.7">Trait-level RS</text>
<text x="1030.53" y="1934.80" font-size="29.7">Fluctuating T</text>
<text x="1061.74" y="1971.60" font-size="29.7">(3 traits)</text>
<text x="1289.62" y="1916.00" font-size="29.7">Empirical</text>
<text x="1264.88" y="1952.80" font-size="29.7">Fluctuating T</text>
<text x="293.18" y="2018.00" font-size="35" font-weight="bold">1</text>
<text x="609.40" y="2017.60" font-size="35" font-weight="bold">5</text>
<text x="870.82" y="2048.70" font-size="35" font-weight="bold">4</text>
<text x="1108.35" y="2048.70" font-size="35" font-weight="bold">3</text>
<text x="1342.08" y="2018.00" font-size="35" font-weight="bold">2</text>
<text x="615.73" y="1596.70" font-size="29.7" font-style="italic">RS</text>
<text x="426.83" y="1912.40" font-size="29.7" font-style="italic">RS</text>
<path d="M303 1686.2V1834" stroke="#000" stroke-width="4.5" stroke-linecap="round" fill="none"/>
<path d="M303.00 1852.00L291.60 1832.40L314.40 1832.40Z" fill="#000"/>
<path d="M1352 1686.2V1835" stroke="#000" stroke-width="4.5" stroke-linecap="round" fill="none"/>
<path d="M1352.00 1853.40L1340.60 1834.00L1363.40 1834.00Z" fill="#000"/>
<path d="M988.20 1680.80L878.65 1807.88" stroke="#000" stroke-width="4.5" stroke-linecap="round" fill="none"/>
<path d="M868.20 1820.00L872.51 1797.84L889.48 1812.47Z" fill="#000"/>
<path d="M1010.30 1680.80L1119.66 1807.87" stroke="#000" stroke-width="4.5" stroke-linecap="round" fill="none"/>
<path d="M1130.10 1820.00L1108.83 1812.45L1125.80 1797.84Z" fill="#000"/>
<path d="M411.2 1609.5H836" stroke="#000" stroke-width="4.4" stroke-linecap="round" stroke-dasharray="8 13.1" fill="none"/>
<path d="M854.00 1609.50L834.30 1620.70L834.30 1598.30Z" fill="#000"/>
<path d="M404 1927.1H485" stroke="#000" stroke-width="4.4" stroke-linecap="round" stroke-dasharray="0.1 13.9 8 13.4 8 13.4 8 13.4 8 20" fill="none"/>
<path d="M502.30 1927.10L483.60 1937.90L483.60 1916.30Z" fill="#000"/>
</svg>
</body></html>
